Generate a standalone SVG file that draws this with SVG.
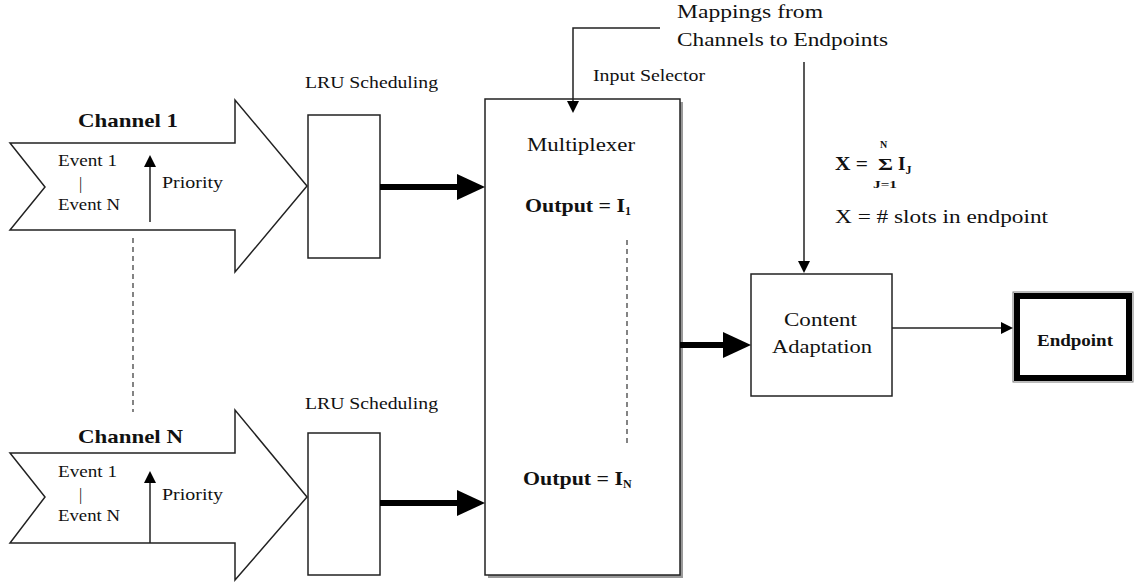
<svg xmlns="http://www.w3.org/2000/svg" width="1135" height="586" viewBox="0 0 1135 586" font-family="'Liberation Serif', 'Times New Roman', 'DejaVu Serif', serif">
<style>
text{font-family:'Liberation Serif','Times New Roman','DejaVu Serif',serif;fill:#111}
.b{font-weight:bold}
.chan{fill:#fff;stroke:#222;stroke-width:1.5}
.box{fill:#fff;stroke:#222;stroke-width:1.5}
.thick{stroke:#000;stroke-width:6;fill:none}
.thin{stroke:#222;stroke-width:1.5;fill:none}
.dash{stroke:#333;stroke-width:1.2;stroke-dasharray:5,4;fill:none}
</style>
<defs>
<marker id="big" markerUnits="userSpaceOnUse" markerWidth="28" markerHeight="26" refX="3" refY="13" orient="auto"><path d="M0,0 L28,13 L0,26 z" fill="#000"/></marker>
<marker id="sm" markerUnits="userSpaceOnUse" markerWidth="12" markerHeight="12" refX="2" refY="6" orient="auto"><path d="M0,0 L12,6 L0,12 z" fill="#000"/></marker>
</defs>

<g id="channel1">
<polygon class="chan" points="10,143 235,143 235,100 307,186 235,272 235,230 10,230 45,187"/>
<text class="b" x="78" y="127" font-size="19" textLength="100" lengthAdjust="spacingAndGlyphs">Channel 1</text>
<text x="58" y="166" font-size="16" textLength="59" lengthAdjust="spacingAndGlyphs">Event 1</text>
<text x="79" y="189" font-size="16">|</text>
<text x="58" y="210" font-size="16" textLength="62" lengthAdjust="spacingAndGlyphs">Event N</text>
<line class="thin" x1="150" y1="222" x2="150" y2="165" marker-end="url(#sm)"/>
<text x="162" y="188" font-size="16.5" textLength="61" lengthAdjust="spacingAndGlyphs">Priority</text>
</g>

<g id="channelN">
<polygon class="chan" points="10,453 235,453 235,410 307,497 235,580 235,543 10,543 45,497"/>
<text class="b" x="78" y="443" font-size="19" textLength="105" lengthAdjust="spacingAndGlyphs">Channel N</text>
<text x="58" y="477" font-size="16" textLength="59" lengthAdjust="spacingAndGlyphs">Event 1</text>
<text x="79" y="500" font-size="16">|</text>
<text x="58" y="521" font-size="16" textLength="62" lengthAdjust="spacingAndGlyphs">Event N</text>
<line class="thin" x1="150" y1="543" x2="150" y2="481" marker-end="url(#sm)"/>
<text x="162" y="500" font-size="16.5" textLength="61" lengthAdjust="spacingAndGlyphs">Priority</text>
</g>

<g id="lru1">
<text x="305" y="88" font-size="16.5" textLength="133" lengthAdjust="spacingAndGlyphs">LRU Scheduling</text>
<rect class="box" x="308" y="115" width="72" height="143"/>
</g>

<g id="lruN">
<text x="305" y="409" font-size="16.5" textLength="133" lengthAdjust="spacingAndGlyphs">LRU Scheduling</text>
<rect class="box" x="308" y="433" width="72" height="142"/>
</g>

<g id="multiplexer">
<rect x="488" y="102" width="195" height="476" fill="#999"/>
<rect class="box" x="485" y="99" width="195" height="476"/>
<text x="527" y="151" font-size="19" textLength="108" lengthAdjust="spacingAndGlyphs">Multiplexer</text>
<text class="b" x="525" y="212" font-size="19"><tspan textLength="100" lengthAdjust="spacingAndGlyphs">Output = I</tspan><tspan font-size="12" dy="3">1</tspan></text>
<line class="dash" x1="627" y1="240" x2="627" y2="443"/>
<text class="b" x="523" y="485" font-size="19"><tspan textLength="100" lengthAdjust="spacingAndGlyphs">Output = I</tspan><tspan font-size="12" dy="3">N</tspan></text>
</g>

<g id="mappings">
<text x="677" y="18" font-size="19" textLength="146" lengthAdjust="spacingAndGlyphs">Mappings from</text>
<text x="677" y="46" font-size="19" textLength="211" lengthAdjust="spacingAndGlyphs">Channels to Endpoints</text>
<text x="593" y="81" font-size="16.5" textLength="112" lengthAdjust="spacingAndGlyphs">Input Selector</text>
</g>

<g id="formula">
<text class="b" x="835" y="170" font-size="19" textLength="33" lengthAdjust="spacingAndGlyphs">X =</text>
<text class="b" x="878" y="170" font-size="17" textLength="15" lengthAdjust="spacingAndGlyphs">Σ</text>
<text class="b" x="880" y="148" font-size="10">N</text>
<text class="b" x="873" y="188" font-size="11" textLength="24" lengthAdjust="spacingAndGlyphs">J=1</text>
<text class="b" x="898" y="170" font-size="19">I<tspan font-size="12" dy="4">J</tspan></text>
<text x="835" y="223" font-size="18" textLength="213" lengthAdjust="spacingAndGlyphs">X = # slots in endpoint</text>
</g>

<g id="content">
<rect class="box" x="751" y="274" width="141" height="122"/>
<text x="784" y="326" font-size="19" textLength="73" lengthAdjust="spacingAndGlyphs">Content</text>
<text x="772" y="353" font-size="19" textLength="100" lengthAdjust="spacingAndGlyphs">Adaptation</text>
</g>

<g id="endpoint">
<rect x="1013" y="292" width="120" height="90" fill="none" stroke="#777" stroke-width="1"/>
<rect x="1017" y="296" width="112" height="82" fill="#fff" stroke="#000" stroke-width="6"/>
<text class="b" x="1037" y="346" font-size="16" textLength="76" lengthAdjust="spacingAndGlyphs">Endpoint</text>
</g>

<g id="connectors">
<line class="dash" x1="133" y1="238" x2="133" y2="412"/>
<line class="thick" x1="380" y1="187" x2="460" y2="187" marker-end="url(#big)"/>
<line class="thick" x1="380" y1="503" x2="460" y2="503" marker-end="url(#big)"/>
<line class="thick" x1="680" y1="345" x2="726" y2="345" marker-end="url(#big)"/>
<polyline class="thin" points="660,28 573,28 573,103" marker-end="url(#sm)"/>
<line class="thin" x1="804" y1="62" x2="804" y2="263" marker-end="url(#sm)"/>
<line class="thin" x1="892" y1="328" x2="1003" y2="328" marker-end="url(#sm)"/>
</g>
</svg>
